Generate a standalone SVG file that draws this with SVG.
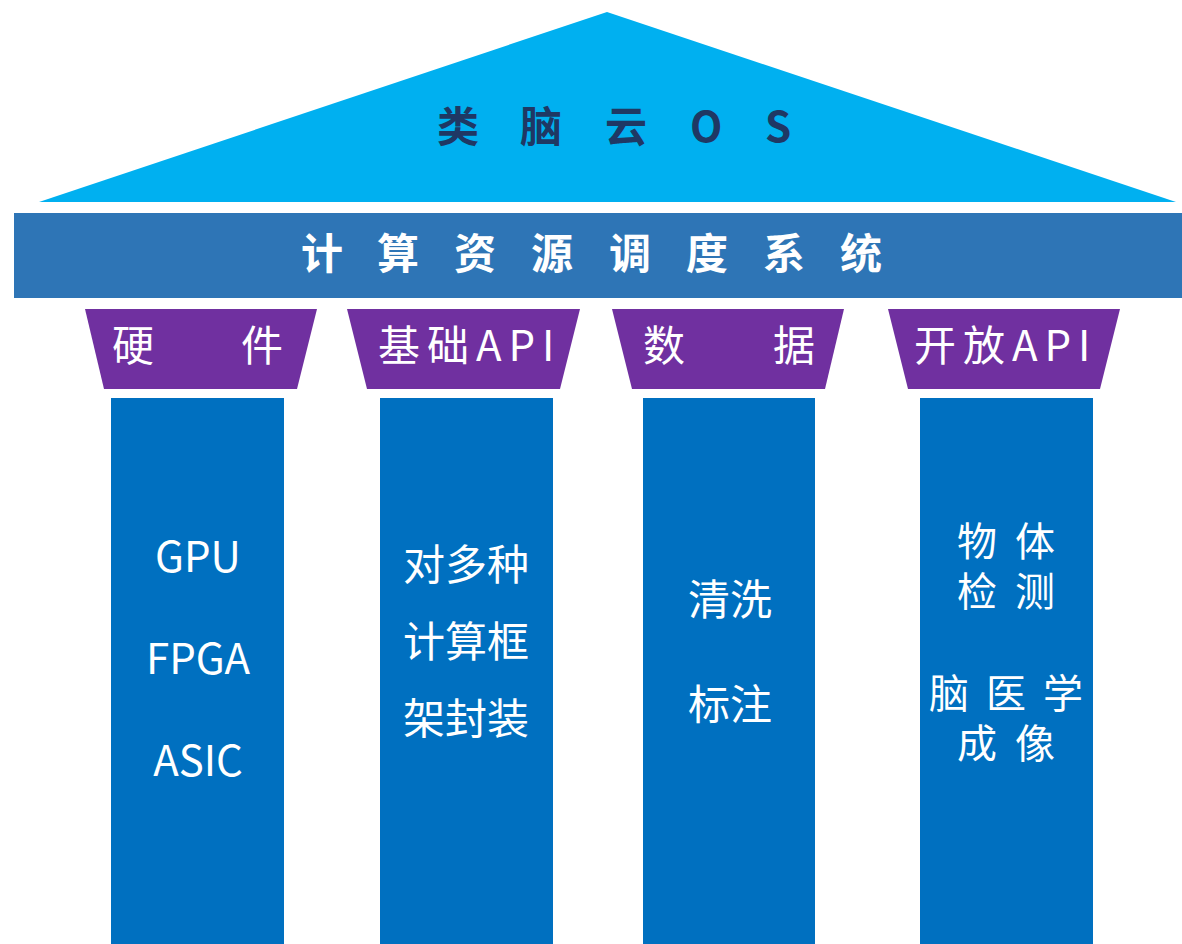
<svg xmlns="http://www.w3.org/2000/svg" width="1182" height="944" viewBox="0 0 1182 944">
<style>
.cap{fill:#7030A0}
.col{fill:#0070C0}
.t{font-family:"Noto Sans CJK SC","Noto Sans",sans-serif;fill:#fff}
.tc{font-size:42px}
.tl{font-size:42px;text-anchor:middle}
</style>
<rect width="1182" height="944" fill="#fff"/>
<g id="roof">
<polygon points="607,12 1176,202 39,202" fill="#00B0F0"/>
<text class="t" x="437 477 520 560 605 645 690 730 765" y="142" font-size="42" font-weight="bold" style="fill:#1F3864" xml:space="preserve">类 脑 云 O S</text>
</g>
<g id="scheduler">
<rect x="14" y="213" width="1168" height="85" fill="#2E75B6"/>
<text class="t" x="301 341 377 417 454 494 531 571 609 649 686 726 763 803 840" y="269" font-size="42" font-weight="bold" xml:space="preserve">计 算 资 源 调 度 系 统</text>
</g>
<g id="pillar-hardware">
<polygon class="cap" points="85,309 317,309 297,389 104,389"/>
<text class="t tc" y="361" xml:space="preserve"><tspan x="112">硬</tspan><tspan x="241">件</tspan></text>
<rect class="col" x="111" y="398" width="173" height="546"/>
<text class="t tl" x="198" y="572" font-size="43">GPU</text>
<text class="t tl" x="198" y="674" font-size="43">FPGA</text>
<text class="t tl" x="198" y="776" font-size="43">ASIC</text>
</g>
<g id="pillar-api">
<polygon class="cap" points="347,309 580,309 560,389 367,389"/>
<text class="t tc" x="378" y="361" letter-spacing="7">基础API</text>
<rect class="col" x="380" y="398" width="173" height="546"/>
<text class="t tl" x="466" y="580">对多种</text>
<text class="t tl" x="466" y="657">计算框</text>
<text class="t tl" x="466" y="734">架封装</text>
</g>
<g id="pillar-data">
<polygon class="cap" points="612,309 844,309 825,389 632,389"/>
<text class="t tc" y="361" xml:space="preserve"><tspan x="643">数</tspan><tspan x="773">据</tspan></text>
<rect class="col" x="643" y="398" width="172" height="546"/>
<text class="t tl" x="730" y="615">清洗</text>
<text class="t tl" x="730" y="720">标注</text>
</g>
<g id="pillar-openapi">
<polygon class="cap" points="888,309 1120,309 1100,389 908,389"/>
<text class="t tc" x="914" y="361" letter-spacing="7">开放API</text>
<rect class="col" x="920" y="398" width="173" height="546"/>
<g class="t" font-size="40" xml:space="preserve">
<text y="556"><tspan x="957 998 1015" y="556">物 体</tspan><tspan x="957 998 1015" y="606">检 测</tspan></text>
<text y="708"><tspan x="929 970 986 1027 1043" y="708">脑 医 学</tspan><tspan x="957 998 1015" y="758">成 像</tspan></text>
</g>
</g>
<g id="connectors"></g>
</svg>
